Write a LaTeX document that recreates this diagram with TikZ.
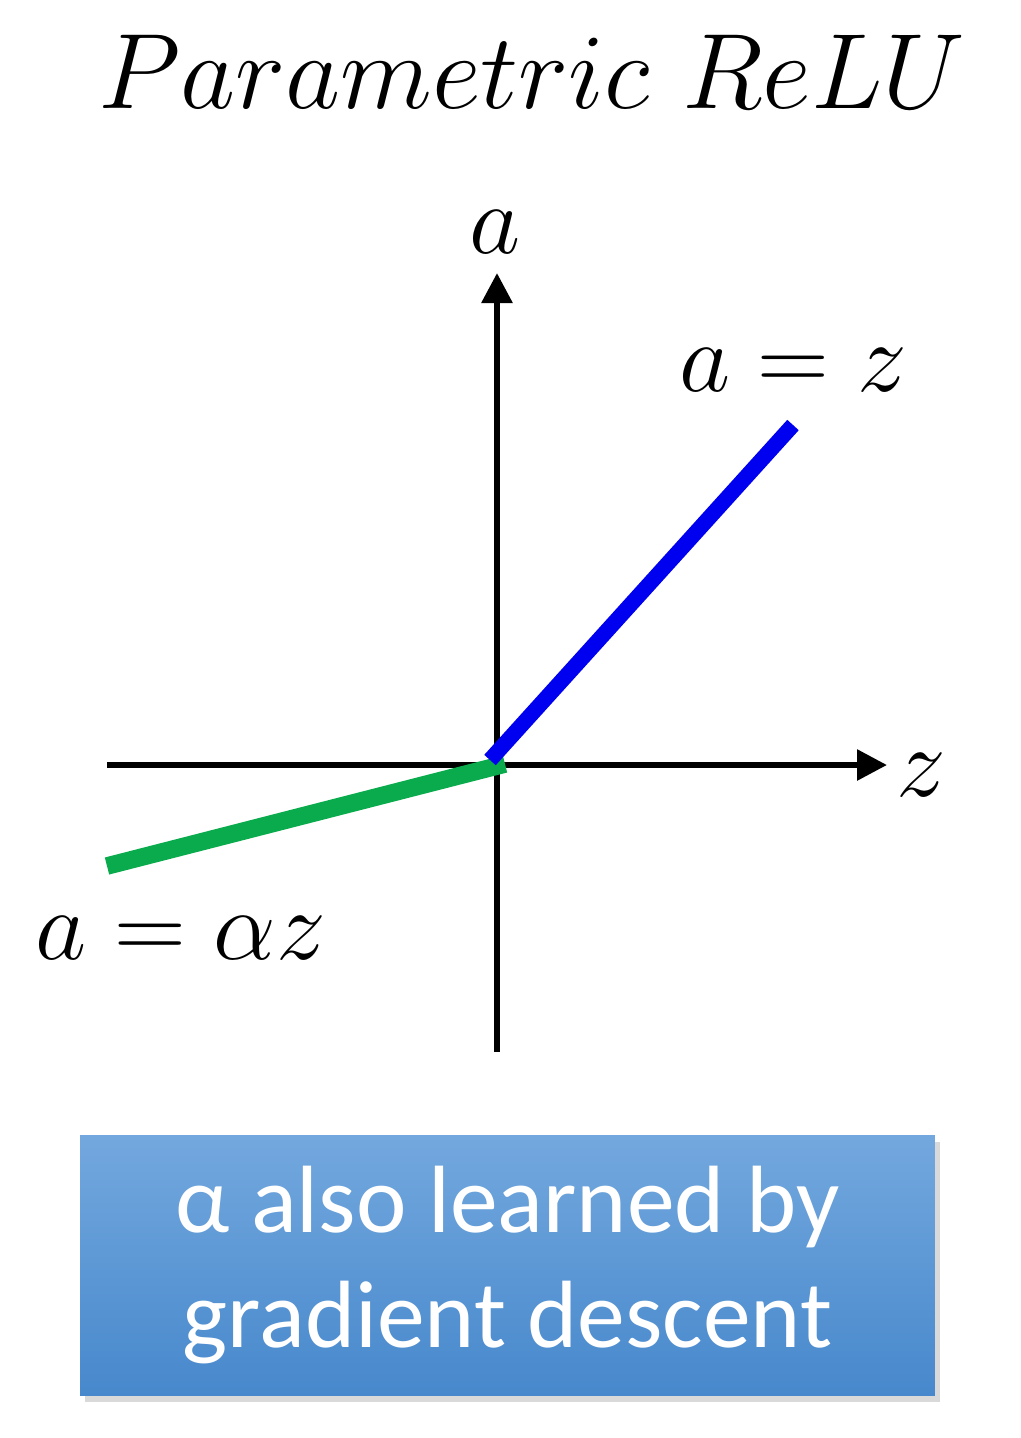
\documentclass[tikz,border=0pt]{standalone}
\usepackage{fix-cm}
\usepackage{fontspec}
\newfontfamily\notefont{Carlito}
\usepackage{xcolor}
\definecolor{LineBlue}{HTML}{0000F0}
\definecolor{LineGreen}{HTML}{0AAB4C}
\definecolor{BoxTop}{HTML}{73A8DE}
\definecolor{BoxBottom}{HTML}{4788CC}
\usepackage{tikz}
\usetikzlibrary{arrows.meta,shadows,positioning}

\begin{document}
\begin{tikzpicture}[x=0.1mm, y=-0.1mm,
    axis/.style={line width=1.7pt, -{Triangle[length=3mm, width=3mm]}},
    eqlabel/.style={font=\fontsize{28.3}{30}\selectfont, inner sep=0pt},
    notebox/.style={top color=BoxTop, bottom color=BoxBottom, draw=none,
      minimum width=85.5mm, minimum height=26mm, text=white, align=center,
      font=\notefont\fontsize{27.2}{32.7}\selectfont,
      drop shadow={shadow xshift=0.5mm, shadow yshift=-0.7mm, opacity=0.3}}]
  \useasboundingbox (0,0) rectangle (1020,1438);

  % Title
  \node[font=\fontsize{30.5}{32}\selectfont] (title) at (532,72) {$Parametric\ ReLU$};

  % Axes
  \coordinate (origin) at (497,765);
  \coordinate (ytop) at (497,273);
  \coordinate (ybot) at (497,1052);
  \coordinate (xleft) at (107,765);
  \coordinate (xright) at (887,765);
  \draw[line width=1.7pt] (origin) -- (ybot);
  \draw[axis] (origin) -- (ytop);
  \draw[axis] (xleft) -- (xright);
  \node[eqlabel] (alabel) at (495,232) {$a$};
  \node[eqlabel] (zlabel) at (921,775) {$z$};

  % Negative part
  \coordinate (negend) at (107,866);
  \coordinate (negstart) at (505,764);
  \draw[LineGreen, line width=5pt] (negend) -- (negstart);
  \node[eqlabel] (neglabel) at (181,938) {$a = \alpha z$};

  % Positive part
  \coordinate (posstart) at (490,760);
  \coordinate (posend) at (793,425);
  \draw[LineBlue, line width=4.4pt] (posstart) -- (posend);
  \node[eqlabel] (poslabel) at (793,370) {$a = z$};

  % Note
  \node[notebox] (note) at (507.5,1265) {α also learned by\\gradient descent};
\end{tikzpicture}
\end{document}
